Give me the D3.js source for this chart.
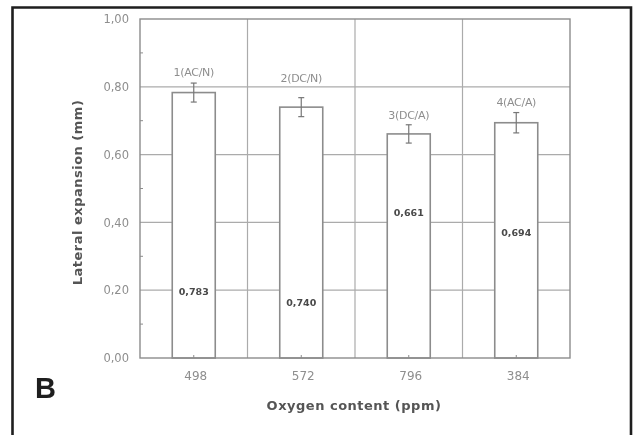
<!DOCTYPE html>
<html>
<head>
<meta charset="utf-8">
<script src="https://cdn.jsdelivr.net/npm/d3@7"></script>
<style>
  html, body { margin: 0; padding: 0; background: #fff; }
  svg { display: block; }
</style>
</head>
<body>
<svg id="chart" width="640" height="435"></svg>
<script>
// Lateral expansion per oxygen content
const categories = ["498", "572", "796", "384"];
const conditions = ["1(AC/N)", "2(DC/N)", "3(DC/A)", "4(AC/A)"];
const expansion = [0.783, 0.740, 0.661, 0.694];
const errors = [0.028, 0.028, 0.027, 0.030];
const valueLabels = ["0,783", "0,740", "0,661", "0,694"];
const yTicks = [0, 0.2, 0.4, 0.6, 0.8, 1.0];
const yMinorTicks = [0.1, 0.3, 0.5, 0.7, 0.9];

// where the in-bar value labels and condition tags sit (data units)
const valueLabelAt = [0.195, 0.165, 0.43, 0.37];
const tagAt = [0.844, 0.826, 0.717, 0.755];

const svg = d3.select("#chart");
const W = 640, H = 435;
const plot = { left: 140, right: 570, top: 19, bottom: 358 };

const fmt = d => d3.format(".2f")(d).replace(".", ",");

const x = d3.scaleBand().domain(categories).range([plot.left, plot.right]).paddingInner(0).paddingOuter(0);
const y = d3.scaleLinear().domain([0, 1]).range([plot.bottom, plot.top]);

svg.append("rect").attr("width", W).attr("height", H).attr("fill", "#fff");

// soft look of the plotted chart
const defs = svg.append("defs");
defs.append("filter").attr("id", "soft")
  .append("feGaussianBlur").attr("stdDeviation", 0.6);

const g = svg.append("g").attr("filter", "url(#soft)");

const gridCol = "#ababab";
const lineCol = "#8c8c8c";
const textCol = "#8e8e8e";

// horizontal grid lines
g.append("g").selectAll("line").data(yTicks.slice(1, -1)).join("line")
  .attr("x1", plot.left).attr("x2", plot.right)
  .attr("y1", d => y(d)).attr("y2", d => y(d))
  .attr("stroke", gridCol).attr("stroke-width", 1.2);

// vertical grid lines at category boundaries
g.append("g").selectAll("line").data(categories.slice(1)).join("line")
  .attr("x1", d => x(d)).attr("x2", d => x(d))
  .attr("y1", plot.top).attr("y2", plot.bottom)
  .attr("stroke", gridCol).attr("stroke-width", 1.2);

// bars
const bw = x.bandwidth() * 0.4;
const cx = d => x(d) + x.bandwidth() / 2;
g.append("g").selectAll("rect").data(categories).join("rect")
  .attr("x", d => cx(d) - bw / 2)
  .attr("y", (d, i) => y(expansion[i]))
  .attr("width", bw)
  .attr("height", (d, i) => y(0) - y(expansion[i]))
  .attr("fill", "#fff")
  .attr("stroke", lineCol).attr("stroke-width", 1.6);

// error bars
const eb = g.append("g").attr("stroke", "#777").attr("stroke-width", 1.2);
categories.forEach((c, i) => {
  const hi = y(expansion[i] + errors[i]), lo = y(expansion[i] - errors[i]);
  eb.append("line").attr("x1", cx(c)).attr("x2", cx(c)).attr("y1", hi).attr("y2", lo);
  eb.append("line").attr("x1", cx(c) - 3).attr("x2", cx(c) + 3).attr("y1", hi).attr("y2", hi);
  eb.append("line").attr("x1", cx(c) - 3).attr("x2", cx(c) + 3).attr("y1", lo).attr("y2", lo);
});

// plot frame
g.append("rect")
  .attr("x", plot.left).attr("y", plot.top)
  .attr("width", plot.right - plot.left).attr("height", plot.bottom - plot.top)
  .attr("fill", "none").attr("stroke", lineCol).attr("stroke-width", 1.4);

// y axis: labels and inward minor ticks
const yAxis = d3.axisLeft(y).tickValues(yTicks).tickFormat(fmt).tickSize(0).tickPadding(11);
const ya = g.append("g").attr("transform", `translate(${plot.left},0)`).call(yAxis);
ya.select(".domain").remove();
ya.selectAll("text").attr("font-family", "DejaVu Sans").attr("font-size", 11.5).attr("fill", textCol);

g.append("g").selectAll("line").data(yMinorTicks).join("line")
  .attr("x1", plot.left).attr("x2", plot.left + 3)
  .attr("y1", d => y(d)).attr("y2", d => y(d))
  .attr("stroke", lineCol).attr("stroke-width", 1);

// x axis: labels and inward ticks at bar centres
const xAxis = d3.axisBottom(x).tickSize(0).tickPadding(13);
const xa = g.append("g").attr("transform", `translate(0,${plot.bottom})`).call(xAxis);
xa.select(".domain").remove();
xa.selectAll("text").attr("font-family", "DejaVu Sans").attr("font-size", 12).attr("fill", textCol)
  .attr("dx", 2);

g.append("g").selectAll("line").data(categories).join("line")
  .attr("x1", cx).attr("x2", cx)
  .attr("y1", plot.bottom).attr("y2", plot.bottom - 3)
  .attr("stroke", lineCol).attr("stroke-width", 1);

// condition tags above bars
g.append("g").selectAll("text").data(categories).join("text")
  .attr("x", cx).attr("y", (d, i) => y(tagAt[i]) + 4)
  .attr("text-anchor", "middle")
  .attr("font-family", "DejaVu Sans").attr("font-size", 11).attr("fill", textCol)
  .attr("letter-spacing", -0.3)
  .text((d, i) => conditions[i]);

// values inside bars
g.append("g").selectAll("text").data(categories).join("text")
  .attr("x", cx).attr("y", (d, i) => y(valueLabelAt[i]) + 3.5)
  .attr("text-anchor", "middle")
  .attr("font-family", "DejaVu Sans").attr("font-weight", "bold").attr("font-size", 9.5).attr("fill", "#4a4a4a")
  .text((d, i) => valueLabels[i]);

// axis titles
g.append("text")
  .attr("x", (plot.left + plot.right) / 2 - 1).attr("y", 410)
  .attr("text-anchor", "middle")
  .attr("font-family", "DejaVu Sans").attr("font-weight", "bold").attr("font-size", 13).attr("fill", "#555")
  .attr("letter-spacing", 0.5)
  .text("Oxygen content (ppm)");

g.append("text")
  .attr("transform", `translate(82,${(plot.top + plot.bottom) / 2 + 4}) rotate(-90)`)
  .attr("text-anchor", "middle")
  .attr("font-family", "DejaVu Sans").attr("font-weight", "bold").attr("font-size", 13).attr("fill", "#555")
  .attr("letter-spacing", 0.5)
  .text("Lateral expansion (mm)");

// panel frame and letter
svg.append("path")
  .attr("d", `M12.5,${H + 5} V7.5 H631 V${H + 5}`)
  .attr("fill", "none").attr("stroke", "#1e1e1e").attr("stroke-width", 2.6);

svg.append("text")
  .attr("x", 35).attr("y", 398)
  .attr("font-family", "Liberation Sans").attr("font-weight", "bold").attr("font-size", 29).attr("fill", "#1e1e1e")
  .text("B");
</script>
</body>
</html>
